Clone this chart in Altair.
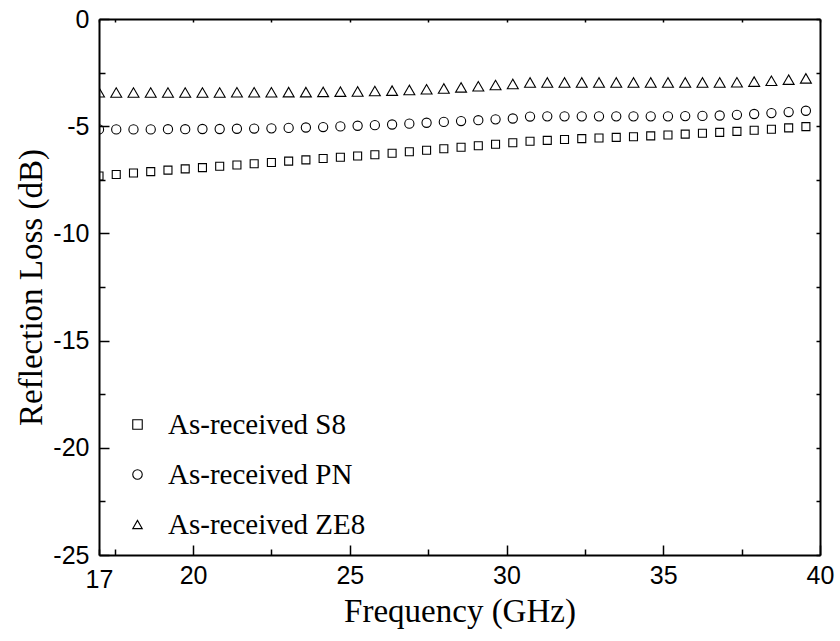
import altair as alt
import pandas as pd

freq = [17.00, 17.55, 18.10, 18.65, 19.20, 19.75, 20.30, 20.85, 21.40, 21.95,
        22.50, 23.05, 23.60, 24.15, 24.70, 25.25, 25.80, 26.35, 26.90, 27.45,
        28.00, 28.55, 29.10, 29.65, 30.20, 30.75, 31.30, 31.85, 32.40, 32.95,
        33.50, 34.05, 34.60, 35.15, 35.70, 36.25, 36.80, 37.35, 37.90, 38.45,
        39.00, 39.55]

s8 = [-7.32, -7.25, -7.18, -7.12, -7.05, -6.99, -6.93, -6.87, -6.81, -6.75,
      -6.69, -6.63, -6.57, -6.51, -6.45, -6.39, -6.33, -6.26, -6.19, -6.12,
      -6.05, -5.98, -5.91, -5.84, -5.77, -5.70, -5.66, -5.62, -5.58, -5.55,
      -5.52, -5.49, -5.45, -5.41, -5.37, -5.33, -5.29, -5.24, -5.19, -5.14,
      -5.08, -5.02]

pn = [-5.15, -5.15, -5.15, -5.15, -5.14, -5.14, -5.13, -5.13, -5.12, -5.11,
      -5.10, -5.08, -5.06, -5.04, -5.01, -4.98, -4.95, -4.92, -4.88, -4.84,
      -4.80, -4.76, -4.72, -4.68, -4.64, -4.55, -4.54, -4.54, -4.54, -4.54,
      -4.54, -4.54, -4.54, -4.54, -4.53, -4.52, -4.50, -4.47, -4.43, -4.39,
      -4.34, -4.28]

ze8 = [-3.42, -3.43, -3.43, -3.43, -3.43, -3.43, -3.43, -3.43, -3.42, -3.42,
       -3.42, -3.41, -3.41, -3.40, -3.39, -3.38, -3.36, -3.34, -3.31, -3.28,
       -3.24, -3.19, -3.14, -3.08, -3.03, -2.96, -2.96, -2.96, -2.96, -2.96,
       -2.96, -2.96, -2.96, -2.96, -2.96, -2.96, -2.96, -2.95, -2.92, -2.88,
       -2.83, -2.77]

series_names = ["As-received S8", "As-received PN", "As-received ZE8"]
series_shapes = ["square", "circle", "triangle-up"]
marker_sizes = [64, 85, 120]
x_ticks = [17, 17.5, 20, 22.5, 25, 27.5, 30, 32.5, 35, 37.5, 40]
y_ticks = [-25, -22.5, -20, -17.5, -15, -12.5, -10, -7.5, -5, -2.5, 0]

rows = []
for name, vals in zip(series_names, [s8, pn, ze8]):
    for f, v in zip(freq, vals):
        rows.append({"Frequency": f, "RL": v, "Series": name})
df = pd.DataFrame(rows)

TICK_EXPR = "(datum.value % 5 == 0) ? -10 : -6"

xscale = alt.Scale(domain=[17, 40], nice=False, zero=False)
yscale = alt.Scale(domain=[-25, 0], nice=False, zero=False)

x_axis = alt.Axis(values=x_ticks, title="Frequency (GHz)", orient="bottom",
                  labelExpr="(datum.value == 17 || datum.value % 5 == 0) ? '' + datum.value : ''",
                  tickSize=alt.ExprRef(TICK_EXPR), labelPadding=18,
                  grid=False, domainColor="black", domainWidth=2, tickColor="black",
                  tickWidth=1.5, labelFont="Liberation Sans", labelFontSize=25,
                  labelColor="black", titleFont="Liberation Serif", titleFontSize=33,
                  titleFontWeight="normal", titleColor="black", titlePadding=3,
                  labelFlush=False, labelOverlap=False)
y_axis = alt.Axis(values=y_ticks, title="Reflection Loss (dB)", orient="left",
                  labelExpr="(datum.value % 5 == 0) ? '' + datum.value : ''",
                  tickSize=alt.ExprRef(TICK_EXPR), labelPadding=20,
                  grid=False, domainColor="black", domainWidth=2, tickColor="black",
                  tickWidth=1.5, labelFont="Liberation Sans", labelFontSize=25,
                  labelColor="black", titleFont="Liberation Serif", titleFontSize=33,
                  titleFontWeight="normal", titleColor="black", titlePadding=4,
                  labelFlush=False, labelOverlap=False)

legend = alt.Legend(title=None, orient="none", legendX=24, legendY=391, padding=0,
                    labelFont="Liberation Serif", labelFontSize=29, labelLimit=0,
                    labelColor="black", symbolStrokeColor="black",
                    symbolFillColor="transparent", symbolStrokeWidth=1.1,
                    symbolSize=90, rowPadding=20, labelOffset=16)

shape_enc = alt.Shape("Series:N",
                      scale=alt.Scale(domain=series_names, range=series_shapes),
                      legend=legend)

layers = []
for i, (name, msize) in enumerate(zip(series_names, marker_sizes)):
    enc = dict(
        x=alt.X("Frequency:Q", scale=xscale, axis=x_axis if i == 0 else None),
        y=alt.Y("RL:Q", scale=yscale, axis=y_axis if i == 0 else None),
        shape=shape_enc,
    )
    layers.append(
        alt.Chart(df).transform_filter(alt.datum.Series == name)
        .mark_point(filled=False, strokeWidth=1.1, clip=True, color="black",
                    size=msize, opacity=1)
        .encode(**enc)
    )

mirror = alt.Chart(df).mark_point(opacity=0).encode(
    x=alt.X("Frequency:Q", scale=xscale,
            axis=alt.Axis(values=x_ticks, orient="top", labels=False, title=None,
                          tickSize=alt.ExprRef("-3"), grid=False, domainColor="black",
                          domainWidth=2, tickColor="black", tickWidth=1.5)),
    y=alt.Y("RL:Q", scale=yscale,
            axis=alt.Axis(values=y_ticks, orient="right", labels=False, title=None,
                          tickSize=alt.ExprRef("-4"), grid=False, domainColor="black",
                          domainWidth=2, tickColor="black", tickWidth=1.5)),
)

chart = alt.layer(*layers, mirror).resolve_scale(x="shared", y="shared").resolve_axis(
    x="independent", y="independent"
).properties(
    width=721, height=536,
    autosize=alt.AutoSizeParams(type="none"),
    padding={"left": 99, "top": 19, "right": 20, "bottom": 86},
).configure_view(stroke=None).configure(background="white")

chart.save("out.html", embed_options={"renderer": "svg", "actions": False})
